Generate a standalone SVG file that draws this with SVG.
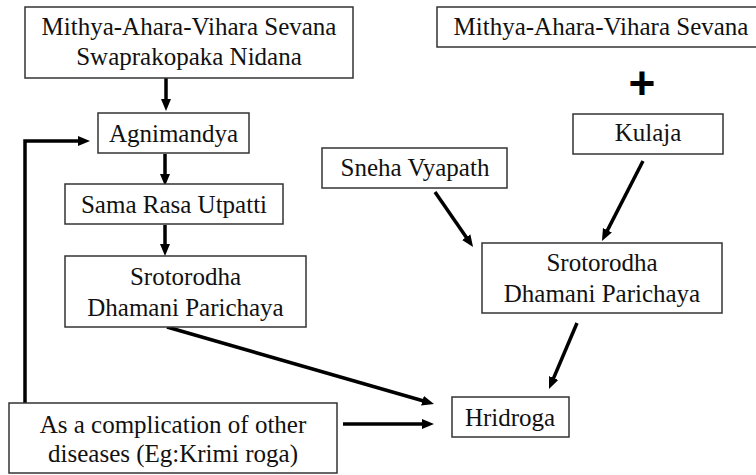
<svg xmlns="http://www.w3.org/2000/svg" width="756" height="475" viewBox="0 0 756 475">
<defs>
<style>
.box{fill:#fff;stroke:#333;stroke-width:1.5}
.t{font-family:"Liberation Serif","Times New Roman",serif;font-size:25px;fill:#111;text-anchor:middle}
.c{fill:none;stroke:#000;stroke-width:3.5;marker-end:url(#ah)}
.plus{font-family:"Liberation Sans",Arial,sans-serif;font-weight:bold;font-size:46px;fill:#000;text-anchor:middle}
</style>
<marker id="ah" markerUnits="userSpaceOnUse" markerWidth="13" markerHeight="11" refX="4" refY="5" orient="auto">
<path d="M0,0 L12,5 L0,10 z" fill="#000"/>
</marker>
</defs>
<rect width="756" height="475" fill="#fff"/>
<g id="connectors">
<path class="c" d="M166,78 V103"/>
<path class="c" d="M165,154 V178"/>
<path class="c" d="M165,225 V248"/>
<path class="c" d="M25,403 V141 H82"/>
<path class="c" d="M167,327 L426.3,401.8"/>
<path class="c" d="M343,424 H426"/>
<path class="c" d="M435,192 L468.5,240.4"/>
<path class="c" d="M643,161 L605.6,233.9"/>
<path class="c" d="M577,323 L552.1,381.6"/>
</g>
<g id="n1"><rect class="box" x="25" y="7" width="328" height="71"/><text class="t" x="189" y="35">Mithya-Ahara-Vihara Sevana</text><text class="t" x="189" y="65">Swaprakopaka Nidana</text></g>
<g id="n2"><rect class="box" x="98" y="113" width="151" height="40"/><text class="t" x="173.5" y="142">Agnimandya</text></g>
<g id="n3"><rect class="box" x="65" y="184" width="218" height="40"/><text class="t" x="174" y="213">Sama Rasa Utpatti</text></g>
<g id="n4"><rect class="box" x="65" y="256" width="241" height="71"/><text class="t" x="185.5" y="285">Srotorodha</text><text class="t" x="185.5" y="316">Dhamani Parichaya</text></g>
<g id="n5"><rect class="box" x="9" y="403" width="328" height="70"/><text class="t" x="173" y="433">As a complication of other</text><text class="t" x="173" y="462">diseases (Eg:Krimi roga)</text></g>
<g id="n6"><rect class="box" x="437" y="7" width="325" height="40"/><text class="t" x="601" y="35">Mithya-Ahara-Vihara Sevana</text></g>
<g id="plus"><text class="plus" x="642" y="99">+</text></g>
<g id="n7"><rect class="box" x="573" y="114" width="150" height="40"/><text class="t" x="648" y="141">Kulaja</text></g>
<g id="n8"><rect class="box" x="322" y="148" width="185" height="40"/><text class="t" x="415" y="176">Sneha Vyapath</text></g>
<g id="n9"><rect class="box" x="482" y="243" width="240" height="70"/><text class="t" x="602" y="271">Srotorodha</text><text class="t" x="602" y="302">Dhamani Parichaya</text></g>
<g id="n10"><rect class="box" x="452" y="397" width="117" height="40"/><text class="t" x="510" y="426">Hridroga</text></g>
</svg>
